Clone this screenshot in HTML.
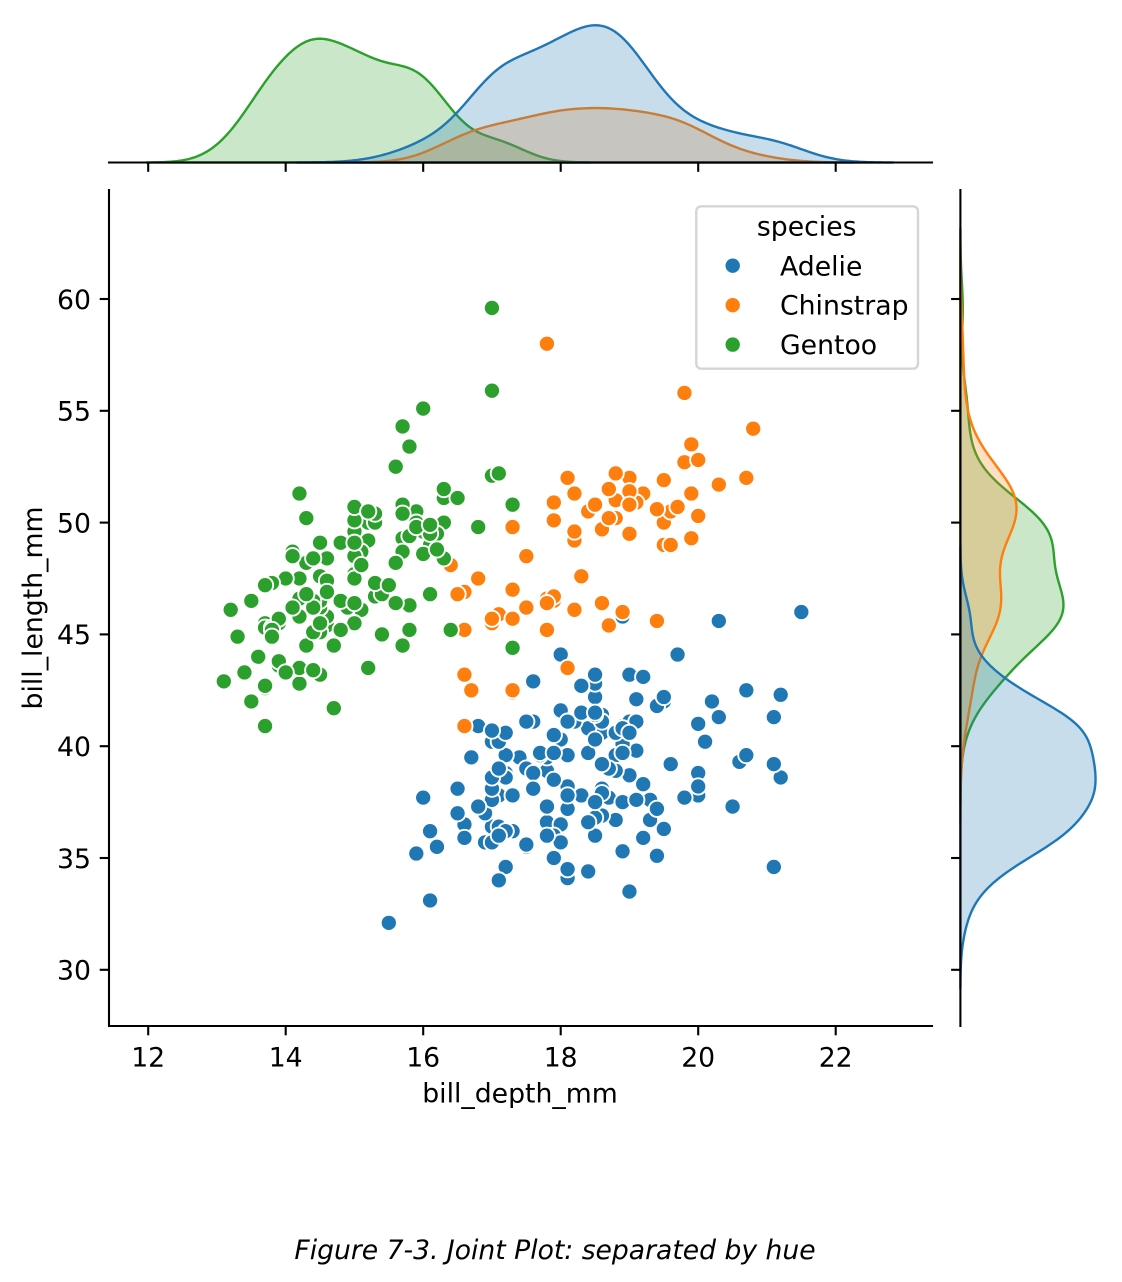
<!DOCTYPE html>
<html>
<head>
<meta charset="utf-8">
<style>
  html, body { margin: 0; padding: 0; background: #ffffff; }
  svg { display: block; }
  text { font-family: "DejaVu Sans", "Liberation Sans", sans-serif; fill: #000; }
</style>
</head>
<body>
<svg id="fig" xmlns="http://www.w3.org/2000/svg" width="1122" height="1282" viewBox="0 0 1122 1282">
  <rect x="0" y="0" width="1122" height="1282" fill="#ffffff"/>
  <g id="margTop"></g>
  <g id="margRight"></g>
  <g id="scatter"></g>
  <g id="axes" stroke="#000" stroke-width="2.1" fill="none"></g>
  <g id="labels"></g>
  <!-- legend -->
  <rect x="696.3" y="206.3" width="221.7" height="162.4" rx="5" ry="5" fill="#ffffff" fill-opacity="0.8" stroke="#d5d5d5" stroke-width="2.4"/>
  <text x="806.7" y="235.7" font-size="26.7" text-anchor="middle">species</text>
  <circle cx="732.7" cy="265.7" r="8" fill="#1f77b4" stroke="#ffffff" stroke-width="1.6"/>
  <circle cx="732.7" cy="305.2" r="8" fill="#ff7f0e" stroke="#ffffff" stroke-width="1.6"/>
  <circle cx="732.7" cy="344.6" r="8" fill="#2ca02c" stroke="#ffffff" stroke-width="1.6"/>
  <text x="780" y="275.3" font-size="26.7">Adelie</text>
  <text x="780" y="314.6" font-size="26.7">Chinstrap</text>
  <text x="780" y="353.9" font-size="26.7">Gentoo</text>
  <!-- axis labels -->
  <text x="520" y="1102.7" font-size="26.7" text-anchor="middle">bill_depth_mm</text>
  <text transform="translate(42,608) rotate(-90)" font-size="26.7" text-anchor="middle">bill_length_mm</text>
  <!-- caption -->
  <text x="555" y="1259" font-size="26.6" font-style="italic" text-anchor="middle">Figure 7-3. Joint Plot: separated by hue</text>
</svg>
<script>
(function(){
  var Astr="39.1,18.7 39.5,17.4 40.3,18.0 36.7,19.3 39.3,20.6 38.9,17.8 39.2,19.6 34.1,18.1 42.0,20.2 37.8,17.1 37.8,17.3 41.1,17.6 38.6,21.2 34.6,21.1 36.6,17.8 38.7,19.0 42.5,20.7 34.4,18.4 46.0,21.5 37.8,18.3 37.7,18.7 35.9,19.2 38.2,18.1 38.8,17.2 35.3,18.9 40.6,18.6 40.5,17.9 37.9,18.6 40.5,18.9 39.5,16.7 37.2,18.1 39.5,17.8 40.9,18.9 36.4,17.0 39.2,21.1 38.8,20.0 42.2,18.5 37.6,19.3 39.8,19.1 36.5,18.0 40.8,18.4 36.0,18.5 44.1,19.7 37.0,16.9 39.6,18.8 41.1,19.0 37.5,18.9 36.0,17.9 42.3,21.2 39.6,17.7 40.1,18.9 35.0,17.9 42.0,19.5 34.5,18.1 41.4,18.6 39.0,17.5 40.6,18.8 36.5,16.6 37.6,19.1 35.7,16.9 41.3,21.1 37.6,17.0 41.1,18.2 36.4,17.1 41.6,18.0 35.5,16.2 41.1,19.1 35.9,16.6 41.8,19.4 33.5,19.0 39.7,18.4 39.6,17.2 45.8,18.9 35.5,17.5 42.8,18.5 40.9,16.8 37.2,19.4 36.2,16.1 42.1,19.1 34.6,17.2 42.9,17.6 36.7,18.8 35.1,19.4 37.3,17.8 41.3,20.3 36.3,19.5 36.9,18.6 38.3,19.2 38.9,18.8 35.7,18.0 41.1,18.1 34.0,17.1 39.6,18.1 36.2,17.3 40.8,18.9 38.1,18.6 40.3,18.5 33.1,16.1 43.2,18.5 35.0,17.9 41.0,20.0 37.7,16.0 37.8,20.0 37.9,18.6 39.7,18.9 38.6,17.2 38.2,20.0 38.1,17.0 43.2,19.0 38.1,16.5 45.6,20.3 39.7,17.7 42.2,19.5 39.6,20.7 42.7,18.3 38.6,17.0 37.3,20.5 35.7,17.0 41.1,18.6 36.2,17.2 37.7,19.8 40.2,17.0 41.4,18.5 35.2,15.9 40.6,19.0 38.8,17.6 41.5,18.3 39.0,17.1 44.1,18.0 38.5,17.9 43.1,19.2 36.8,18.5 37.5,18.5 38.1,17.6 41.1,17.5 35.6,17.5 40.2,20.1 37.0,16.5 39.7,17.9 40.2,17.1 40.6,17.2 32.1,15.5 40.7,17.0 37.3,16.8 39.0,18.7 39.2,18.6 36.6,18.4 36.0,17.8 37.8,18.1 36.0,17.1 41.5,18.5";
  var Cstr="46.5,17.9 50.0,19.5 51.3,19.2 45.4,18.7 52.7,19.8 45.2,17.8 46.1,18.2 51.3,18.2 46.0,18.9 51.3,19.9 46.6,17.8 51.7,20.3 47.0,17.3 52.0,18.1 45.9,17.1 50.5,19.6 50.3,20.0 58.0,17.8 46.4,18.6 49.2,18.2 42.4,17.3 48.5,17.5 43.2,16.6 50.6,19.4 46.7,17.9 52.0,19.0 50.5,18.4 49.5,19.0 46.4,17.8 52.8,20.0 40.9,16.6 54.2,20.8 42.5,16.7 51.0,18.8 49.7,18.6 47.5,16.8 47.6,18.3 52.0,20.7 46.9,16.6 53.5,19.9 49.0,19.5 46.2,17.5 50.9,19.1 45.5,17.0 50.9,17.9 50.8,18.5 50.1,17.9 49.0,19.6 51.5,18.7 49.8,17.3 48.1,16.4 51.4,19.0 45.7,17.3 50.7,19.7 42.5,17.3 52.2,18.8 45.2,16.6 49.3,19.9 50.2,18.8 45.6,19.4 51.9,19.5 46.8,16.5 45.7,17.0 55.8,19.8 43.5,18.1 49.6,18.2 50.8,19.0 50.2,18.7";
  var Gstr="46.1,13.2 50.0,16.3 48.7,14.1 50.0,15.2 47.6,14.5 46.5,13.5 45.4,14.6 46.7,15.3 43.3,13.4 46.8,15.4 40.9,13.7 49.0,16.1 45.5,13.7 48.4,14.6 45.8,14.6 49.3,15.7 42.0,13.5 49.2,15.2 46.2,14.5 48.7,15.1 50.2,14.3 45.1,14.5 46.5,14.5 46.3,15.8 42.9,13.1 46.1,15.1 44.5,14.3 47.8,15.0 48.2,14.3 50.0,15.3 47.3,15.3 42.8,14.2 45.1,14.5 59.6,17.0 49.1,14.8 48.4,16.3 42.6,13.7 44.4,17.3 44.0,13.6 48.7,15.7 42.7,13.7 49.6,16.0 45.3,13.7 49.6,15.0 50.5,15.9 43.6,13.9 45.5,13.9 50.5,15.9 44.9,13.3 45.2,15.8 46.6,14.2 48.5,14.1 45.1,14.4 50.1,15.0 46.5,14.4 45.0,15.4 43.8,13.9 45.5,15.0 43.2,14.5 50.4,15.3 45.3,13.8 46.2,14.9 45.7,13.9 54.3,15.7 45.8,14.2 49.8,16.8 46.2,14.4 49.5,16.2 43.5,14.2 50.7,15.0 47.7,15.0 46.4,15.6 48.2,15.6 46.5,14.8 46.4,15.0 48.6,16.0 47.5,14.2 51.1,16.3 45.2,13.8 45.2,16.4 49.1,14.5 52.5,15.6 47.4,14.6 50.0,15.9 44.9,13.8 50.8,17.3 43.4,14.4 51.3,14.2 47.5,14.0 52.1,17.0 47.5,15.0 52.2,17.1 45.5,14.5 49.5,16.1 44.5,14.7 50.8,15.7 49.4,15.8 46.9,14.6 48.4,14.4 51.1,16.5 48.5,15.0 55.9,17.0 47.2,15.5 49.1,15.0 47.3,13.8 46.8,16.1 41.7,14.7 53.4,15.8 43.3,14.0 48.1,15.1 50.5,15.2 49.8,15.9 43.5,15.2 51.5,16.3 46.2,14.1 55.1,16.0 44.5,15.7 48.8,16.2 47.2,13.7 46.8,14.3 50.4,15.7 45.2,14.8 49.9,16.1";
  function parse(s){ return s.trim().split(/\s+/).map(function(p){var a=p.split(','); return [parseFloat(a[0]), parseFloat(a[1])];}); }
  var A=parse(Astr), C=parse(Cstr), G=parse(Gstr);
  var cols={A:"#1f77b4",C:"#ff7f0e",G:"#2ca02c"};
  var fills={A:"rgba(31,119,180,0.25)",C:"rgba(255,127,14,0.25)",G:"rgba(44,160,44,0.25)"};
  var N=A.length+C.length+G.length;

  function xm(v){ return 423.2 + (v-16)*68.75; }
  function ym(v){ return 299 + (60-v)*22.36; }

  var L=109, R=932, T=190, B=1026;
  var topBase=162.5, topH=144.1;
  var rightBase=960.4, rightW=141.9;

  // scatter
  var s="";
  [[A,"A"],[C,"C"],[G,"G"]].forEach(function(g){
    g[0].forEach(function(p){
      s+='<circle cx="'+xm(p[1]).toFixed(2)+'" cy="'+ym(p[0]).toFixed(2)+'" r="8.1" fill="'+cols[g[1]]+'" stroke="#ffffff" stroke-width="1.9"/>';
    });
  });
  document.getElementById("scatter").innerHTML=s;

  // KDE
  function kde(arr, frac){
    var n=arr.length, mean=0, i, j;
    for(i=0;i<n;i++) mean+=arr[i]; mean/=n;
    var ss=0; for(i=0;i<n;i++) ss+=(arr[i]-mean)*(arr[i]-mean);
    var sd=Math.sqrt(ss/(n-1));
    var bw=sd*Math.pow(n,-0.2);
    var mn=Math.min.apply(null,arr), mx=Math.max.apply(null,arr);
    var lo=mn-3*bw, hi=mx+3*bw;
    var pts=[];
    var norm=1/(n*bw*Math.sqrt(2*Math.PI));
    for(i=0;i<200;i++){
      var x=lo+(hi-lo)*i/199, d=0;
      for(j=0;j<n;j++){ var z=(x-arr[j])/bw; d+=Math.exp(-0.5*z*z); }
      pts.push([x, d*norm*frac]);
    }
    return pts;
  }
  var groups=[["G",G],["C",C],["A",A]];
  var topK={}, rightK={}, maxT=0, maxR=0;
  groups.forEach(function(g){
    var arr=g[1];
    var depth=arr.map(function(p){return p[1];});
    var len=arr.map(function(p){return p[0];});
    var fr=arr.length/N;
    topK[g[0]]=kde(depth,fr);
    rightK[g[0]]=kde(len,fr);
    topK[g[0]].forEach(function(p){ if(p[1]>maxT) maxT=p[1]; });
    rightK[g[0]].forEach(function(p){ if(p[1]>maxR) maxR=p[1]; });
  });
  var axT=maxT*1.05, axR=maxR*1.05;
  var st="", sr="";
  groups.forEach(function(g){
    var k=g[0], pts=topK[k];
    var d="M"+xm(pts[0][0]).toFixed(2)+","+topBase;
    pts.forEach(function(p){ d+=" L"+xm(p[0]).toFixed(2)+","+(topBase-p[1]/axT*topH).toFixed(2); });
    d+=" L"+xm(pts[pts.length-1][0]).toFixed(2)+","+topBase+" Z";
    st+='<path d="'+d+'" fill="'+fills[k]+'" stroke="'+cols[k]+'" stroke-width="2.4" stroke-linejoin="round"/>';
    var q=rightK[k];
    var e="M"+rightBase+","+ym(q[0][0]).toFixed(2);
    q.forEach(function(p){ e+=" L"+(rightBase+p[1]/axR*rightW).toFixed(2)+","+ym(p[0]).toFixed(2); });
    e+=" L"+rightBase+","+ym(q[q.length-1][0]).toFixed(2)+" Z";
    sr+='<path d="'+e+'" fill="'+fills[k]+'" stroke="'+cols[k]+'" stroke-width="2.4" stroke-linejoin="round"/>';
  });
  document.getElementById("margTop").innerHTML=st;
  document.getElementById("margRight").innerHTML=sr;

  // axes, spines, ticks
  var a="";
  a+='<path d="M'+L+','+T+' L'+L+','+B+' L'+R+','+B+'" stroke-linecap="square" stroke-linejoin="miter"/>';
  a+='<line x1="'+L+'" y1="'+topBase+'" x2="'+R+'" y2="'+topBase+'" stroke-linecap="square"/>';
  a+='<line x1="'+rightBase+'" y1="'+T+'" x2="'+rightBase+'" y2="'+B+'" stroke-linecap="square"/>';
  var lab="";
  for(var v=12; v<=22; v+=2){
    var x=xm(v).toFixed(2);
    a+='<line x1="'+x+'" y1="'+B+'" x2="'+x+'" y2="'+(B+9.3)+'"/>';
    a+='<line x1="'+x+'" y1="'+topBase+'" x2="'+x+'" y2="'+(topBase+9.3)+'"/>';
    lab+='<text x="'+x+'" y="1066.7" font-size="26.7" text-anchor="middle">'+v+'</text>';
  }
  for(var w=30; w<=60; w+=5){
    var y=ym(w);
    a+='<line x1="'+L+'" y1="'+y.toFixed(2)+'" x2="'+(L-9.3)+'" y2="'+y.toFixed(2)+'"/>';
    a+='<line x1="'+rightBase+'" y1="'+y.toFixed(2)+'" x2="'+(rightBase-9.3)+'" y2="'+y.toFixed(2)+'"/>';
    lab+='<text x="91" y="'+(y+9.8).toFixed(2)+'" font-size="26.7" text-anchor="end">'+w+'</text>';
  }
  document.getElementById("axes").innerHTML=a;
  document.getElementById("labels").innerHTML=lab;
})();
</script>
</body>
</html>
